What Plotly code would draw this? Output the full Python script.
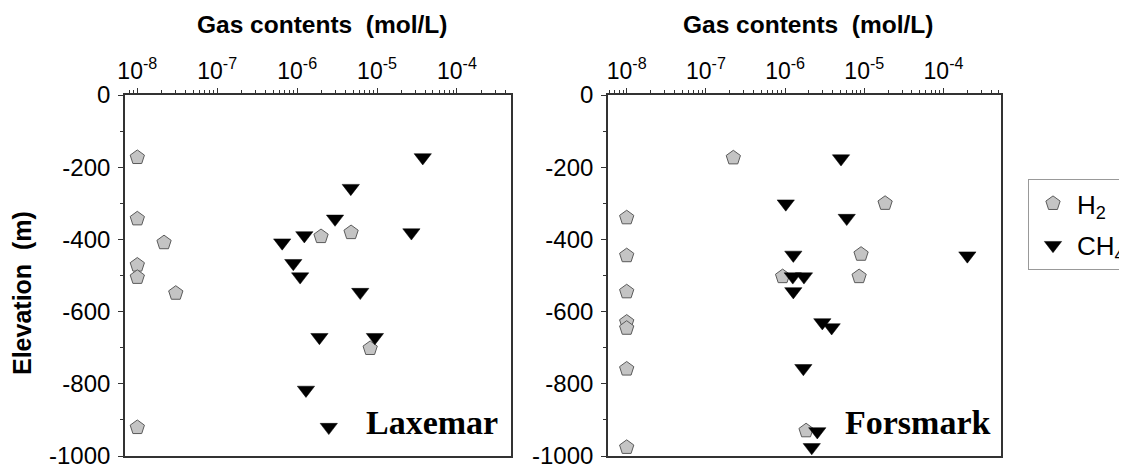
import plotly.graph_objects as go

# ---------------- data ----------------
lax_h2_x = [1e-8, 1e-8, 2.16e-8, 1e-8, 1e-8, 3.03e-8, 1.99e-6, 4.73e-6, 8.2e-6, 1e-8]
lax_h2_y = [-173, -343, -409, -471, -505, -549, -392, -381, -702, -921]
lax_ch4_x = [3.73e-5, 4.69e-6, 2.98e-6, 2.69e-5, 1.23e-6, 6.5e-7, 8.95e-7, 1.09e-6,
             6.16e-6, 1.9e-6, 9.4e-6, 1.29e-6, 2.49e-6]
lax_ch4_y = [-173, -258, -343, -381, -389, -409, -466, -503, -546, -671, -671, -817, -920]

for_h2_x = [2.22e-7, 1.83e-5, 1e-8, 1e-8, 9.1e-6, 9.3e-7, 8.6e-6, 1e-8, 1e-8, 1e-8,
            1e-8, 1.84e-6, 1e-8]
for_h2_y = [-174, -300, -340, -445, -441, -503, -503, -545, -629, -646, -759, -930, -976]
for_ch4_x = [5.08e-6, 1.02e-6, 6.0e-6, 1.27e-6, 2.0e-4, 1.25e-6, 1.73e-6, 1.27e-6,
             2.95e-6, 3.87e-6, 1.70e-6, 2.55e-6, 2.17e-6]
for_ch4_y = [-176, -301, -341, -443, -445, -503, -503, -544, -630, -644, -757, -932, -976]

x_tick_vals = [1e-8, 1e-7, 1e-6, 1e-5, 1e-4]
x_tick_text = ["10<sup>-8</sup>", "10<sup>-7</sup>", "10<sup>-6</sup>",
               "10<sup>-5</sup>", "10<sup>-4</sup>"]
x_minor_vals = [m * 10.0 ** e for e in range(-9, -3) for m in range(2, 10)]
y_tick_vals = [0, -200, -400, -600, -800, -1000]
y_tick_text = ["0", "-200", "-400", "-600", "-800", "-1000"]
site_names = ["Laxemar", "Forsmark"]
series_names = ["H<sub>2</sub>", "CH<sub>4</sub>"]

W, H = 1127, 466
OFF = 8  # page body margin
FONT = "Liberation Sans, Arial, sans-serif"


def px(x):
    return (x - OFF) / W


def py(y):
    return 1 - (y - OFF) / H


h2_marker = dict(symbol="pentagon", size=15, color="#c4c4c4",
                 line=dict(color="#5a5a5a", width=1))
ch4_marker = dict(symbol="triangle-down", size=15, color="black",
                  line=dict(color="black", width=0.5))

fig = go.Figure()
fig.add_trace(go.Scatter(x=lax_h2_x, y=lax_h2_y, mode="markers", marker=h2_marker,
                         name=series_names[0], xaxis="x", yaxis="y", legendgroup="h2"))
fig.add_trace(go.Scatter(x=lax_ch4_x, y=lax_ch4_y, mode="markers", marker=ch4_marker,
                         name=series_names[1], xaxis="x", yaxis="y", legendgroup="ch4"))
fig.add_trace(go.Scatter(x=for_h2_x, y=for_h2_y, mode="markers", marker=h2_marker,
                         name=series_names[0], xaxis="x2", yaxis="y2", showlegend=False,
                         legendgroup="h2"))
fig.add_trace(go.Scatter(x=for_ch4_x, y=for_ch4_y, mode="markers", marker=ch4_marker,
                         name=series_names[1], xaxis="x2", yaxis="y2", showlegend=False,
                         legendgroup="ch4"))


def xax(domain, rng, anchor):
    return dict(type="log", domain=domain, range=rng, side="top", anchor=anchor,
                automargin=False,
                tickmode="array", tickvals=x_tick_vals, ticktext=x_tick_text,
                ticks="outside", ticklen=5, tickwidth=1, tickcolor="#333",
                minor=dict(tickmode="array", tickvals=x_minor_vals, ticks="outside",
                           ticklen=3, tickwidth=1, tickcolor="#333", showgrid=False),
                showline=True, linecolor="#333", linewidth=1.6, mirror=True,
                showgrid=False, zeroline=False,
                tickfont=dict(family=FONT, size=23, color="black"),
                ticklabelstandoff=0)


def yax(domain, anchor):
    return dict(domain=domain, range=[-1000, 0], anchor=anchor, automargin=False,
                tickmode="array", tickvals=y_tick_vals, ticktext=y_tick_text,
                ticks="outside", ticklen=5, tickwidth=1, tickcolor="#333",
                minor=dict(dtick=100, ticks="outside", ticklen=3, tickwidth=1,
                           tickcolor="#333", showgrid=False),
                showline=True, linecolor="#333", linewidth=1.6, mirror=True,
                showgrid=False, zeroline=False,
                tickfont=dict(family=FONT, size=24, color="black"),
                ticklabelstandoff=3)


ydom = [py(456), py(95)]
fig.update_layout(
    width=W, height=H,
    margin=dict(l=0, r=0, t=0, b=0, autoexpand=False),
    paper_bgcolor="white", plot_bgcolor="white",
    xaxis=xax([px(125), px(511)], [-8.154, -3.324], "y"),
    yaxis=yax(ydom, "x"),
    xaxis2=xax([px(608), px(1000.7)], [-8.236, -3.278], "y2"),
    yaxis2=yax(ydom, "x2"),
    showlegend=True,
    legend=dict(x=px(1028), y=py(179), xanchor="left", yanchor="top",
                bgcolor="white", bordercolor="#999", borderwidth=1,
                font=dict(family=FONT, size=26, color="black"),
                itemwidth=38, tracegroupgap=5),
)

ann = []
for cx in [(125 + 511) / 2 + 4, (608 + 1000.7) / 2 + 4]:
    ann.append(dict(text="<b>Gas contents  (mol/L)</b>", x=px(cx), y=py(24),
                    xref="paper", yref="paper", showarrow=False,
                    font=dict(family=FONT, size=24.5, color="black"),
                    xanchor="center", yanchor="middle"))
ann.append(dict(text="<b>Elevation  (m)</b>", x=px(22), y=py(293),
                xref="paper", yref="paper", showarrow=False, textangle=-90,
                font=dict(family=FONT, size=25, color="black"),
                xanchor="center", yanchor="middle"))
for name, cx in zip(site_names, [432, 918]):
    ann.append(dict(text="<b>%s</b>" % name, x=px(cx), y=py(422),
                    xref="paper", yref="paper", showarrow=False,
                    font=dict(family="Liberation Serif, Times New Roman, serif",
                              size=34, color="black"),
                    xanchor="center", yanchor="middle"))
fig.update_layout(annotations=ann)

fig.write_html("out.html")
